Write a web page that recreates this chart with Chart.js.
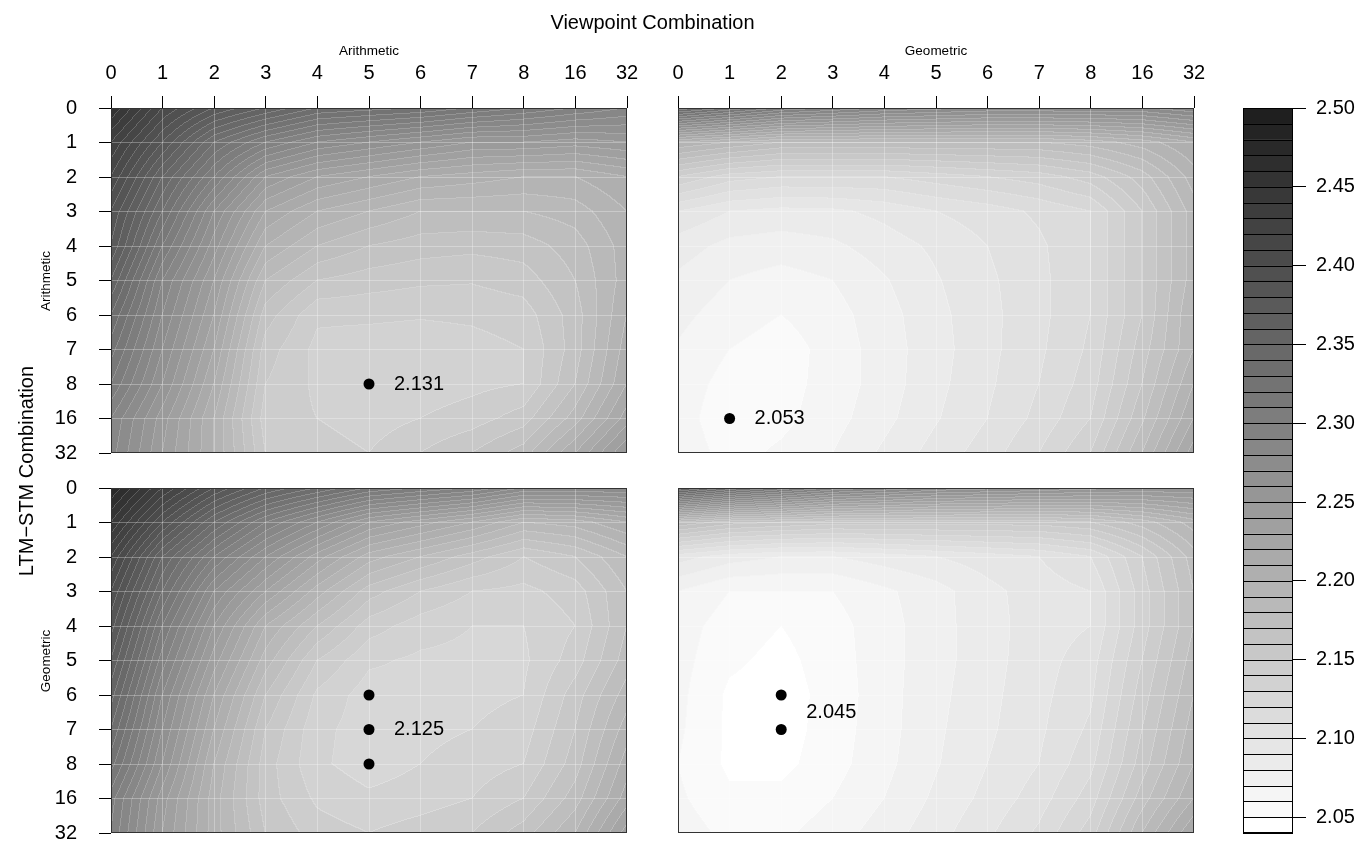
<!DOCTYPE html>
<html><head><meta charset="utf-8">
<script src="https://cdn.jsdelivr.net/npm/chart.js@4"></script>
<style>
html,body{margin:0;padding:0;background:#fff;}
#wrap{position:relative;width:1365px;height:846px;overflow:hidden;font-family:"Liberation Sans",Arial,Helvetica,sans-serif;color:#000;}
canvas{position:absolute;}
.lbl{position:absolute;white-space:nowrap;line-height:1;transform:translate(-50%,-50%);}
.rot{transform:translate(-50%,-50%) rotate(-90deg);}
</style></head><body>
<div id="wrap">
<canvas id="pAA" width="643" height="469" style="left:0px;top:0px"></canvas>
<canvas id="pGA" width="552" height="469" style="left:658px;top:0px"></canvas>
<canvas id="pAG" width="643" height="378" style="left:0px;top:468px"></canvas>
<canvas id="pGG" width="552" height="378" style="left:658px;top:468px"></canvas>
<canvas id="cbar" width="120" height="846" style="left:1243px;top:0px"></canvas>
<div class="lbl" style="left:652.5px;top:22px;font-size:20px">Viewpoint Combination</div>
<div class="lbl" id="sx0" style="left:369px;top:50.5px;font-size:13.5px"></div>
<div class="lbl" id="sx1" style="left:936px;top:50.5px;font-size:13.5px"></div>
<div class="lbl rot" id="sy0" style="left:45.5px;top:280.8px;font-size:13.5px"></div>
<div class="lbl rot" id="sy1" style="left:45.5px;top:660.8px;font-size:13.5px"></div>
<div class="lbl rot" style="left:25.8px;top:470.8px;font-size:20px">LTM−STM Combination</div>
</div>
<script>
// ---------- data ----------
const xLabels = ['0','1','2','3','4','5','6','7','8','16','32'];
const yLabels = ['0','1','2','3','4','5','6','7','8','16','32'];
const stripLabels = ['Arithmetic','Geometric'];

// rows = LTM-STM order (0..32), columns = viewpoint order (0..32)
const valuesArithArith = [
 [2.46, 2.41, 2.38, 2.36, 2.34, 2.335, 2.33, 2.32, 2.31, 2.30, 2.29],
 [2.43, 2.38, 2.33, 2.30, 2.28, 2.27, 2.26, 2.25, 2.25, 2.245, 2.25],
 [2.41, 2.35, 2.30, 2.25, 2.23, 2.22, 2.21, 2.205, 2.20, 2.20, 2.21],
 [2.39, 2.33, 2.27, 2.22, 2.20, 2.19, 2.18, 2.18, 2.18, 2.185, 2.20],
 [2.38, 2.31, 2.255, 2.20, 2.18, 2.17, 2.165, 2.163, 2.165, 2.175, 2.195],
 [2.36, 2.29, 2.24, 2.18, 2.16, 2.155, 2.152, 2.151, 2.155, 2.17, 2.195],
 [2.34, 2.28, 2.23, 2.165, 2.142, 2.142, 2.141, 2.142, 2.145, 2.165, 2.20],
 [2.325, 2.27, 2.22, 2.155, 2.137, 2.135, 2.134, 2.136, 2.14, 2.165, 2.205],
 [2.31, 2.26, 2.21, 2.15, 2.138, 2.131, 2.134, 2.137, 2.14, 2.17, 2.21],
 [2.29, 2.245, 2.20, 2.145, 2.14, 2.135, 2.14, 2.145, 2.155, 2.185, 2.225],
 [2.285, 2.24, 2.20, 2.15, 2.145, 2.14, 2.15, 2.16, 2.175, 2.21, 2.25]
];
const valuesGeomArith = [
 [2.35, 2.33, 2.31, 2.30, 2.29, 2.285, 2.28, 2.28, 2.28, 2.28, 2.29],
 [2.20, 2.19, 2.18, 2.18, 2.18, 2.18, 2.18, 2.18, 2.185, 2.195, 2.21],
 [2.14, 2.125, 2.12, 2.12, 2.12, 2.125, 2.13, 2.135, 2.145, 2.165, 2.195],
 [2.10, 2.09, 2.087, 2.088, 2.093, 2.10, 2.105, 2.112, 2.12, 2.15, 2.185],
 [2.085, 2.077, 2.075, 2.078, 2.085, 2.092, 2.10, 2.108, 2.12, 2.15, 2.185],
 [2.078, 2.07, 2.066, 2.07, 2.079, 2.089, 2.098, 2.107, 2.12, 2.15, 2.185],
 [2.073, 2.065, 2.06, 2.066, 2.076, 2.087, 2.097, 2.107, 2.12, 2.15, 2.19],
 [2.069, 2.06, 2.055, 2.064, 2.075, 2.086, 2.097, 2.108, 2.122, 2.155, 2.19],
 [2.066, 2.056, 2.056, 2.064, 2.075, 2.087, 2.098, 2.11, 2.125, 2.16, 2.20],
 [2.065, 2.053, 2.057, 2.066, 2.077, 2.089, 2.10, 2.113, 2.13, 2.168, 2.21],
 [2.067, 2.056, 2.062, 2.07, 2.082, 2.094, 2.105, 2.12, 2.14, 2.18, 2.225]
];
const valuesArithGeom = [
 [2.48, 2.43, 2.39, 2.36, 2.34, 2.32, 2.31, 2.30, 2.28, 2.28, 2.28],
 [2.45, 2.39, 2.34, 2.30, 2.27, 2.24, 2.225, 2.21, 2.19, 2.195, 2.21],
 [2.42, 2.35, 2.30, 2.26, 2.225, 2.195, 2.18, 2.165, 2.15, 2.16, 2.18],
 [2.40, 2.33, 2.27, 2.23, 2.195, 2.165, 2.15, 2.14, 2.137, 2.145, 2.17],
 [2.385, 2.31, 2.25, 2.20, 2.17, 2.145, 2.135, 2.13, 2.13, 2.14, 2.17],
 [2.37, 2.295, 2.235, 2.185, 2.15, 2.132, 2.128, 2.127, 2.128, 2.145, 2.175],
 [2.355, 2.28, 2.22, 2.17, 2.138, 2.125, 2.126, 2.127, 2.13, 2.155, 2.185],
 [2.34, 2.27, 2.21, 2.16, 2.133, 2.125, 2.127, 2.13, 2.135, 2.16, 2.195],
 [2.325, 2.26, 2.20, 2.155, 2.132, 2.125, 2.13, 2.135, 2.14, 2.165, 2.205],
 [2.305, 2.245, 2.195, 2.155, 2.138, 2.132, 2.135, 2.14, 2.15, 2.175, 2.215],
 [2.30, 2.24, 2.195, 2.16, 2.145, 2.14, 2.145, 2.15, 2.165, 2.19, 2.235]
];
const valuesGeomGeom = [
 [2.37, 2.34, 2.32, 2.30, 2.29, 2.28, 2.275, 2.27, 2.265, 2.26, 2.26],
 [2.18, 2.165, 2.16, 2.155, 2.155, 2.155, 2.155, 2.155, 2.16, 2.175, 2.195],
 [2.095, 2.085, 2.08, 2.08, 2.085, 2.09, 2.095, 2.10, 2.11, 2.14, 2.175],
 [2.07, 2.06, 2.06, 2.06, 2.068, 2.076, 2.087, 2.095, 2.10, 2.135, 2.17],
 [2.065, 2.055, 2.05, 2.056, 2.066, 2.076, 2.086, 2.095, 2.10, 2.135, 2.17],
 [2.064, 2.052, 2.047, 2.055, 2.066, 2.076, 2.086, 2.096, 2.105, 2.14, 2.175],
 [2.063, 2.048, 2.045, 2.054, 2.066, 2.077, 2.087, 2.097, 2.108, 2.145, 2.18],
 [2.062, 2.048, 2.045, 2.055, 2.066, 2.078, 2.088, 2.098, 2.112, 2.15, 2.185],
 [2.06, 2.048, 2.047, 2.056, 2.067, 2.079, 2.09, 2.10, 2.117, 2.155, 2.19],
 [2.062, 2.052, 2.053, 2.06, 2.07, 2.082, 2.093, 2.105, 2.125, 2.165, 2.20],
 [2.066, 2.057, 2.058, 2.065, 2.075, 2.086, 2.098, 2.112, 2.135, 2.18, 2.22]
];

// minima (column index, row index) and their labels
const minColsAA = [5];       const minRowsAA = [8];       const minLabelAA = '2.131';
const minColsGA = [1];       const minRowsGA = [9];       const minLabelGA = '2.053';
const minColsAG = [5, 5, 5]; const minRowsAG = [6, 7, 8]; const minLabelAG = '2.125';
const minColsGG = [2, 2];    const minRowsGG = [6, 7];    const minLabelGG = '2.045';

// colour key cut points and tick labels
const colorLevels = [2.04,2.05,2.06,2.07,2.08,2.09,2.10,2.11,2.12,2.13,2.14,2.15,2.16,2.17,2.18,2.19,
 2.20,2.21,2.22,2.23,2.24,2.25,2.26,2.27,2.28,2.29,2.30,2.31,2.32,2.33,2.34,2.35,2.36,2.37,2.38,2.39,
 2.40,2.41,2.42,2.43,2.44,2.45,2.46,2.47,2.48,2.49,2.50];
const colorTicks = [2.05,2.10,2.15,2.20,2.25,2.30,2.35,2.40,2.45,2.50];

// ---------- styling helpers ----------
const FONT = '"Liberation Sans", Arial, Helvetica, sans-serif';
Chart.defaults.font.family = FONT;
Chart.defaults.color = '#000';
const nBands = colorLevels.length - 1;
function shade(k){ const g = Math.round(255*(1 - k*0.88/(nBands-1))); return [g,g,g]; }
function shadeCss(k){ const s = shade(k); return 'rgb('+s[0]+','+s[1]+','+s[2]+')'; }
function bandOf(v){
  const step = colorLevels[1]-colorLevels[0];
  let k = Math.floor((v - colorLevels[0])/step + 1e-9);
  return Math.max(0, Math.min(nBands-1, k));
}
function zeroPad(s){ s.paddingTop = 0; s.paddingBottom = 0; s.paddingLeft = 0; s.paddingRight = 0; }

document.getElementById('sx0').textContent = stripLabels[0];
document.getElementById('sx1').textContent = stripLabels[1];
document.getElementById('sy0').textContent = stripLabels[0];
document.getElementById('sy1').textContent = stripLabels[1];

function makePanel(id, grid, o){
  const surface = {
    id:'surface',
    beforeDraw(chart){
      const ctx = chart.ctx, ca = chart.chartArea, xs = chart.scales.x, ys = chart.scales.y;
      const x0 = Math.round(ca.left), y0 = Math.round(ca.top);
      const w = Math.round(ca.right) - x0, h = Math.round(ca.bottom) - y0;
      const n = grid.length - 1, m = grid[0].length - 1;
      const us = new Float64Array(w), ws = new Float64Array(h);
      for (let i=0;i<w;i++){ us[i] = Math.max(0, Math.min(m, xs.getValueForPixel(x0+i+0.5))); }
      for (let j=0;j<h;j++){ ws[j] = Math.max(0, Math.min(n, ys.getValueForPixel(y0+j+0.5))); }
      const band = new Int16Array(w*h);
      for (let j=0;j<h;j++){
        const wv = ws[j]; const r = Math.min(n-1, Math.floor(wv)); const fy = wv - r;
        for (let i=0;i<w;i++){
          const u = us[i]; const c = Math.min(m-1, Math.floor(u)); const fx = u - c;
          const v = (grid[r][c]*(1-fx) + grid[r][c+1]*fx)*(1-fy) + (grid[r+1][c]*(1-fx) + grid[r+1][c+1]*fx)*fy;
          band[j*w+i] = bandOf(v);
        }
      }
      const off = document.createElement('canvas'); off.width = w; off.height = h;
      const octx = off.getContext('2d'); const img = octx.createImageData(w, h); const d = img.data;
      for (let j=0;j<h;j++){
        for (let i=0;i<w;i++){
          const k = band[j*w+i];
          let g = shade(k)[0];
          const seam = (i<w-1 && band[j*w+i+1]!==k) || (j<h-1 && band[(j+1)*w+i]!==k);
          if (seam) g = g + (255-g)*0.2;
          const p = (j*w+i)*4; d[p]=g; d[p+1]=g; d[p+2]=g; d[p+3]=255;
        }
      }
      octx.putImageData(img,0,0);
      ctx.drawImage(off, x0, y0);
    }
  };
  const frame = {
    id:'frame',
    afterDatasetsDraw(chart){
      const ctx = chart.ctx, ca = chart.chartArea, xs = chart.scales.x, ys = chart.scales.y;
      ctx.save();
      ctx.strokeStyle = '#333'; ctx.lineWidth = 1;
      ctx.strokeRect(Math.round(ca.left)+0.5, Math.round(ca.top)+0.5, Math.round(ca.right)-Math.round(ca.left)-1, Math.round(ca.bottom)-Math.round(ca.top)-1);
      const tx = xs.getPixelForValue(o.minCols[0]) + 25;
      let sy = 0; o.minRows.forEach(r => { sy += ys.getPixelForValue(r); });
      const ty = sy / o.minRows.length;
      ctx.fillStyle = '#000'; ctx.font = '20px ' + FONT; ctx.textBaseline = 'middle'; ctx.textAlign = 'left';
      ctx.fillText(o.minLabel, tx, ty);
      ctx.restore();
    }
  };
  return new Chart(document.getElementById(id), {
    type:'scatter',
    data:{ datasets:[{
      data: o.minCols.map((c,i)=>({x:c, y:o.minRows[i]})),
      pointRadius:5.5, pointHoverRadius:5.5, backgroundColor:'#000', borderColor:'#000', borderWidth:0, showLine:false
    }]},
    options:{
      responsive:false, animation:false, devicePixelRatio:1, events:[],
      layout:{ padding:{ left:0, top:0, right:o.padR, bottom:o.padB } },
      plugins:{ legend:{display:false}, tooltip:{enabled:false} },
      scales:{
        x:{ type:'linear', position:'top', min:0, max:xLabels.length-1,
          afterBuildTicks: s => { s.ticks = xLabels.map((_,i)=>({value:i})); },
          ticks:{ display:o.showX, callback:(v)=>xLabels[v], font:{size:20}, color:'#000', padding:11, maxRotation:0, autoSkip:false },
          grid:{ color:'rgba(255,255,255,0.3)', lineWidth:1, tickColor:'#000', tickLength:12, drawTicks:o.showX },
          border:{ display:false },
          afterFit: s => { s.height = o.axisH; zeroPad(s); }
        },
        y:{ type:'linear', position:'left', min:0, max:yLabels.length-1, reverse:true,
          afterBuildTicks: s => { s.ticks = yLabels.map((_,i)=>({value:i})); },
          ticks:{ display:o.showY, callback:(v)=>yLabels[v], font:{size:20}, color:'#000', padding:22, autoSkip:false },
          grid:{ color:'rgba(255,255,255,0.3)', lineWidth:1, tickColor:'#000', tickLength:12, drawTicks:o.showY },
          border:{ display:false },
          afterFit: s => { s.width = o.axisW; zeroPad(s); }
        }
      }
    },
    plugins:[surface, frame]
  });
}

makePanel('pAA', valuesArithArith, {showX:true,  showY:true,  axisW:111, axisH:108, padR:16, padB:16, minCols:minColsAA, minRows:minRowsAA, minLabel:minLabelAA});
makePanel('pGA', valuesGeomArith,  {showX:true,  showY:false, axisW:20,  axisH:108, padR:16, padB:16, minCols:minColsGA, minRows:minRowsGA, minLabel:minLabelGA});
makePanel('pAG', valuesArithGeom,  {showX:false, showY:true,  axisW:111, axisH:20,  padR:16, padB:13, minCols:minColsAG, minRows:minRowsAG, minLabel:minLabelAG});
makePanel('pGG', valuesGeomGeom,   {showX:false, showY:false, axisW:20,  axisH:20,  padR:16, padB:13, minCols:minColsGG, minRows:minRowsGG, minLabel:minLabelGG});

// ---------- colour key ----------
const keyLines = {
  id:'keyLines',
  afterDatasetsDraw(chart){
    const ctx = chart.ctx, ca = chart.chartArea, ys = chart.scales.y;
    ctx.save(); ctx.strokeStyle = '#000'; ctx.lineWidth = 1;
    const l = Math.round(ca.left), r = Math.round(ca.right);
    colorLevels.forEach(v => {
      const y = Math.round(ys.getPixelForValue(v)) + 0.5;
      ctx.beginPath(); ctx.moveTo(l, y); ctx.lineTo(r, y); ctx.stroke();
    });
    ctx.strokeRect(l+0.5, Math.round(ca.top)+0.5, r-l-1, Math.round(ca.bottom)-Math.round(ca.top)-1);
    ctx.restore();
  }
};
new Chart(document.getElementById('cbar'), {
  type:'bar',
  data:{ labels:[''], datasets: colorLevels.slice(0,-1).map((lo,k)=>({
    data:[[lo, colorLevels[k+1]]], backgroundColor:shadeCss(k), borderWidth:0,
    grouped:false, barPercentage:1, categoryPercentage:1
  }))},
  options:{
    responsive:false, animation:false, devicePixelRatio:1, events:[],
    layout:{ padding:{ left:0, top:108, right:0, bottom:13 } },
    plugins:{ legend:{display:false}, tooltip:{enabled:false} },
    scales:{
      x:{ display:false },
      y:{ position:'right', min:colorLevels[0], max:colorLevels[colorLevels.length-1],
        afterBuildTicks: s => { s.ticks = colorTicks.map(v=>({value:v})); },
        ticks:{ callback:(v)=>Number(v).toFixed(2), font:{size:20}, color:'#000', padding:10, autoSkip:false },
        grid:{ drawOnChartArea:false, color:'#000', tickColor:'#000', tickLength:13 },
        border:{ display:false },
        afterFit: s => { s.width = 70; zeroPad(s); }
      }
    }
  },
  plugins:[keyLines]
});
</script>
</body></html>
